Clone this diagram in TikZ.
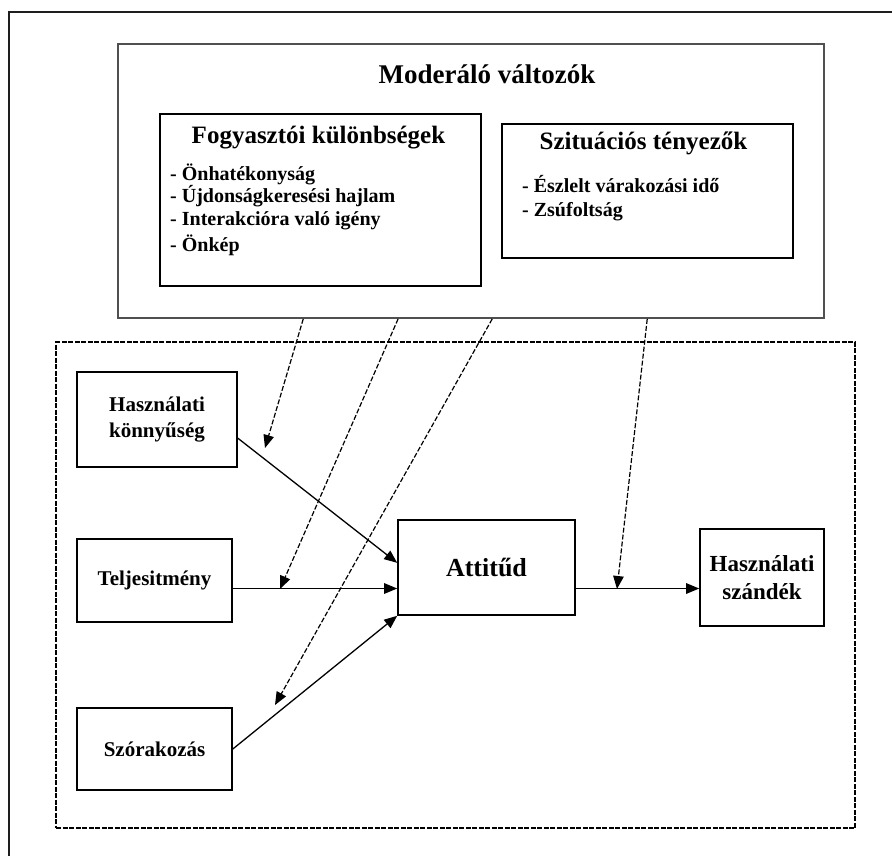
\documentclass[tikz,border=0pt]{standalone}
\usepackage{fontspec}
\setmainfont{Liberation Serif}
\usepackage{tikz}
\usetikzlibrary{
  arrows.meta,
  positioning,
  calc
}
\definecolor{framegray}{RGB}{80,80,80}
\definecolor{darkgray}{RGB}{30,30,30}

\begin{document}
\begin{tikzpicture}[x=1pt, y=-1pt,
            groupbox/.style={rectangle, draw=black, line width=1.6pt, inner sep=0pt},
            varbox/.style={rectangle, draw=black, line width=1.6pt, inner sep=0pt, align=center, font=\fontsize{21}{26}\selectfont\bfseries},
            headline/.style={inner sep=0pt, font=\fontsize{25}{28}\selectfont\bfseries},
            itemlist/.style={inner sep=0pt, align=left, font=\fontsize{20}{22}\selectfont\bfseries},
            effect/.style={-{Triangle[length=13pt,width=10.5pt]}, line width=1.3pt},
            moderate/.style={effect, line width=1.2pt, dash pattern=on 5pt off 2pt}]
            \useasboundingbox (0,0) rectangle (892,855);
            \draw[darkgray, line width=1.4pt] (9,870) -- (9,12) -- (900,12);
            % moderators
            \node [groupbox, draw=framegray, line width=1.8pt, minimum width=706pt, minimum height=274pt] (mod) at (471,181) {};
            \node [headline, font=\fontsize{27}{30}\selectfont\bfseries] (modtitle) at (487,74) {Moderáló változók};
            \node [groupbox, minimum width=321pt, minimum height=172pt] (fogy) at (320.5,200) {};
            \node [headline] (fogytitle) at (318.5,138) {Fogyasztói különbségek};
            \node [itemlist, anchor=north west] (fogyitems) at (170,164) {- Önhatékonyság\\ - Újdonságkeresési hajlam\\[1pt] - Interakcióra való igény\\[4pt] - Önkép};
            \node [groupbox, minimum width=291pt, minimum height=134pt] (szit) at (647.5,191) {};
            \node [headline] (szittitle) at (643.5,143) {Szituációs tényezők};
            \node [itemlist, anchor=north west] (szititems) at (522,175) {- Észlelt várakozási idő\\[2pt] - Zsúfoltság};
            % model
            \node [rectangle, draw=black, line width=1.5pt, dash pattern=on 5pt off 1.5pt, minimum width=799pt, minimum height=486pt] (model) at (455.5,585) {};
            \node [varbox, minimum width=160pt, minimum height=95pt] (konny) at (157,419.5) {Használati\\ könnyűség};
            \node [varbox, minimum width=155pt, minimum height=83pt] (telj) at (154.5,580.5) {Teljesitmény};
            \node [varbox, minimum width=155pt, minimum height=82pt] (szor) at (154.5,749) {Szórakozás};
            \node [varbox, minimum width=177pt, minimum height=95pt, font=\fontsize{26}{30}\selectfont\bfseries] (att) at (486.5,567.5) {Attitűd};
            \node [varbox, minimum width=124pt, minimum height=97pt, font=\fontsize{23}{28}\selectfont\bfseries] (szand) at (762,577.5) {Használati\\ szándék};
            \draw [effect] (konny.-13) -- (att.177);
            \draw [effect] ([yshift=-8pt]telj.east) coordinate (teljout) -- (teljout -| att.west);
            \draw [effect] (szor.east) -- (att.south west);
            \draw [effect] ([yshift=-21pt]att.east) coordinate (attout) -- (attout -| szand.west);
            % moderating effects
            \coordinate (onKonny) at (265,448);
            \coordinate (onTelj) at (280,589);
            \coordinate (onSzor) at (275,705);
            \coordinate (onAtt) at (617,589);
            \draw [moderate] ($(mod.south west)!0.263!(mod.south east)$) -- (onKonny);
            \draw [moderate] ($(mod.south west)!0.397!(mod.south east)$) -- (onTelj);
            \draw [moderate] ($(mod.south west)!0.53!(mod.south east)$) -- (onSzor);
            \draw [moderate] ($(mod.south west)!0.749!(mod.south east)$) -- (onAtt);
        \end{tikzpicture}
\end{document}
